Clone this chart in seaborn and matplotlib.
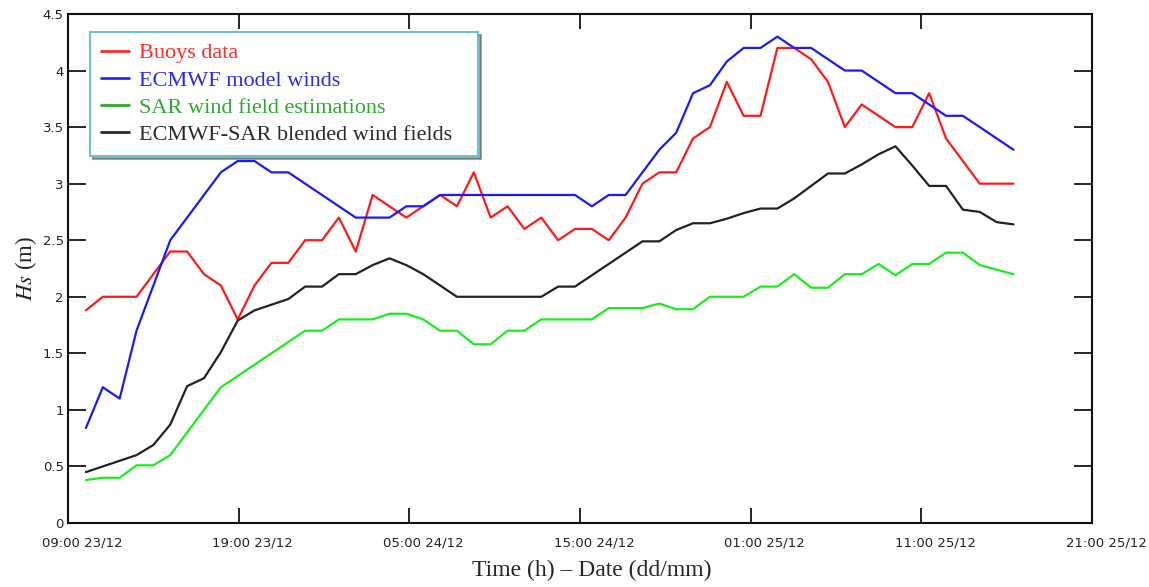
import numpy as np
import pandas as pd
import matplotlib
matplotlib.use("Agg")
import matplotlib.pyplot as plt
import matplotlib.transforms as mtransforms
import seaborn as sns

# 시료 시각 (09:00 23/12 기준 경과 시간, 약 1시간 간격 56개)
hours = np.linspace(1.05, 55.4, 56)

buoys = [1.88, 2.0, 2.0, 2.0, 2.2, 2.4, 2.4, 2.2, 2.1, 1.8,
         2.1, 2.3, 2.3, 2.5, 2.5, 2.7, 2.4, 2.9, 2.8, 2.7,
         2.8, 2.9, 2.8, 3.1, 2.7, 2.8, 2.6, 2.7, 2.5, 2.6,
         2.6, 2.5, 2.7, 3.0, 3.1, 3.1, 3.4, 3.5, 3.9, 3.6,
         3.6, 4.2, 4.2, 4.1, 3.9, 3.5, 3.7, 3.6, 3.5, 3.5,
         3.8, 3.4, 3.2, 3.0, 3.0, 3.0]

ecmwf = [0.84, 1.2, 1.1, 1.7, 2.1, 2.5, 2.7, 2.9, 3.1, 3.2,
         3.2, 3.1, 3.1, 3.0, 2.9, 2.8, 2.7, 2.7, 2.7, 2.8,
         2.8, 2.9, 2.9, 2.9, 2.9, 2.9, 2.9, 2.9, 2.9, 2.9,
         2.8, 2.9, 2.9, 3.1, 3.3, 3.45, 3.8, 3.87, 4.08, 4.2,
         4.2, 4.3, 4.2, 4.2, 4.1, 4.0, 4.0, 3.9, 3.8, 3.8,
         3.7, 3.6, 3.6, 3.5, 3.4, 3.3]

sar = [0.38, 0.4, 0.4, 0.51, 0.51, 0.6, 0.8, 1.0, 1.2, 1.3,
       1.4, 1.5, 1.6, 1.7, 1.7, 1.8, 1.8, 1.8, 1.85, 1.85,
       1.8, 1.7, 1.7, 1.58, 1.58, 1.7, 1.7, 1.8, 1.8, 1.8,
       1.8, 1.9, 1.9, 1.9, 1.94, 1.89, 1.89, 2.0, 2.0, 2.0,
       2.09, 2.09, 2.2, 2.08, 2.08, 2.2, 2.2, 2.29, 2.19, 2.29,
       2.29, 2.39, 2.39, 2.28, 2.24, 2.2]

blended = [0.45, 0.5, 0.55, 0.6, 0.69, 0.87, 1.21, 1.28, 1.51, 1.79,
           1.88, 1.93, 1.98, 2.09, 2.09, 2.2, 2.2, 2.28, 2.34, 2.28,
           2.2, 2.1, 2.0, 2.0, 2.0, 2.0, 2.0, 2.0, 2.09, 2.09,
           2.19, 2.29, 2.39, 2.49, 2.49, 2.59, 2.65, 2.65, 2.69, 2.74,
           2.78, 2.78, 2.87, 2.98, 3.09, 3.09, 3.17, 3.26, 3.33, 3.16,
           2.98, 2.98, 2.77, 2.75, 2.66, 2.64]

series_names = ["Buoys data", "ECMWF model winds",
                "SAR wind field estimations", "ECMWF-SAR blended wind fields"]
series_colors = ["#ff1a1a", "#1a1aff", "#1aee1a", "#222222"]
# 범례 쪽 색 (원본 범례는 조금 더 어두운 톤)
legend_colors = ["#ff2a2a", "#2a2aee", "#2fa82f", "#2a2a2a"]

tick_hours = [0, 10, 20, 30, 40, 50, 60]
tick_labels = ["09:00 23/12", "19:00 23/12", "05:00 24/12", "15:00 24/12",
               "01:00 25/12", "11:00 25/12", "21:00 25/12"]
y_ticks = [0, 0.5, 1, 1.5, 2, 2.5, 3, 3.5, 4, 4.5]

# long-form 데이터 구성
df = pd.concat([
    pd.DataFrame({"hour": hours, "Hs": vals, "series": name})
    for name, vals in zip(series_names, [buoys, ecmwf, sar, blended])
], ignore_index=True)

sns.set_style("ticks")
plt.rcParams["mathtext.fontset"] = "stix"

fig = plt.figure(figsize=(11.49, 5.87), dpi=100)
ax = fig.add_axes([68 / 1149, 1 - 523 / 587, 1024 / 1149, 509 / 587])

palette = dict(zip(series_names, series_colors))
sns.lineplot(data=df, x="hour", y="Hs", hue="series", palette=palette,
             hue_order=series_names, linewidth=1.6, legend=False, ax=ax,
             sort=False)

ax.set_xticks(tick_hours)
ax.set_xticklabels([])
ax.set_yticks(y_ticks)
ax.set_yticklabels([f"{v:g}" for v in y_ticks], fontsize=9.5, color="#222222")
ax.set_xlim(0, 60)
ax.set_ylim(0, 4.5)

# x 눈금 라벨: 눈금보다 약간 오른쪽에 배치
trans = mtransforms.blended_transform_factory(ax.transData, ax.transAxes)
trans = trans + mtransforms.ScaledTranslation(14 / 100, -13 / 100, fig.dpi_scale_trans)
for h, lab in zip(tick_hours, tick_labels):
    ax.text(h, 0, lab, transform=trans, ha="center", va="top",
            fontsize=9.5, color="#222222", clip_on=False)

ax.tick_params(axis="x", direction="in", length=11, width=1.4,
               top=True, bottom=True, labeltop=False)
ax.tick_params(axis="y", direction="in", length=13, width=1.4,
               left=True, right=True, labelright=False, pad=3)
for sp in ax.spines.values():
    sp.set_linewidth(1.5)
    sp.set_color("#111111")

ax.set_xlabel("Time (h) – Date (dd/mm)", fontsize=17,
              family="Liberation Serif")
ax.xaxis.set_label_coords(0.511, -0.072)
ax.set_ylabel(r"$\mathit{Hs}$ (m)", fontsize=16.5,
              family="Liberation Serif", labelpad=3)

# 범례: 선 색과 같은 글자색
handles = [plt.Line2D([], [], color=c, linewidth=2) for c in legend_colors]
leg = ax.legend(handles, series_names, loc="upper left", mode="expand",
                bbox_to_anchor=(0.0215, 0.5, 0.379, 0.465), borderaxespad=0,
                prop={"family": "Liberation Serif", "size": 16},
                handlelength=1.25, handletextpad=0.45, labelspacing=0.3,
                borderpad=0.5, fancybox=False, shadow=True, framealpha=1)
leg.get_frame().set_edgecolor("#6cc0d0")
leg.get_frame().set_linewidth(1.5)
for txt, c in zip(leg.get_texts(), legend_colors):
    txt.set_color(c)

fig.savefig("out.png", dpi=100)
